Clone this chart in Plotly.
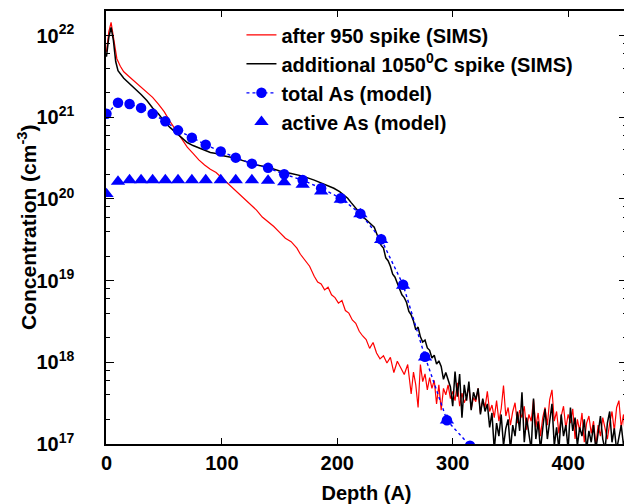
import plotly.graph_objects as go

# after 950 spike (SIMS)
red_depth = [0, 2, 4, 6, 9, 12, 15, 20, 25, 30, 35, 40, 45, 50, 55, 60, 65, 70, 75, 80,
             85, 90, 95, 100, 105, 110, 115, 120, 125, 130, 135, 140, 145, 150, 155, 160, 165, 168, 172, 176,
             180, 183, 186, 189, 192, 195, 198, 201, 204, 207, 210, 213, 216, 219, 222, 225, 228, 231, 234, 237,
             240, 243, 246, 249, 252, 255, 258, 261, 264, 266, 268, 270, 272, 274, 276, 278, 280, 282, 284, 286,
             288, 290, 292, 294, 296, 298, 300, 302, 304, 306, 308, 310, 312, 314, 316, 318, 320, 322, 324, 326,
             328, 330, 332, 334, 336, 338, 340, 342, 344, 346, 348, 350, 352, 354, 356, 358, 360, 362, 364, 366,
             368, 370, 372, 374, 376, 378, 380, 382, 384, 386, 388, 390, 392, 394, 396, 398, 400, 402, 404, 406,
             408, 410, 412, 414, 416, 418, 420, 422, 424, 426, 428, 430, 432, 434, 436, 438, 440, 442, 444, 446,
             448, 450, 452]
red_conc = [6.3e21, 1.1e22, 1.45e22, 9.4e21, 5.2e21, 4.2e21, 3.6e21, 3.1e21, 2.7e21, 2.35e21,
            2.05e21, 1.75e21, 1.45e21, 1.17e21, 8.9e20, 6.9e20, 5.4e20, 4.3e20, 3.6e20, 3.0e20,
            2.6e20, 2.3e20, 2.1e20, 1.8e20, 1.55e20, 1.35e20, 1.15e20, 9.8e19, 8.5e19, 7.3e19,
            6.0e19, 5.3e19, 4.6e19, 3.9e19, 3.3e19, 3.0e19, 2.5e19, 2.1e19, 1.8e19, 1.5e19,
            1.13e19, 9.6e18, 9.1e18, 7.7e18, 8.3e18, 6.7e18, 6.2e18, 5.3e18, 5.7e18, 4.3e18,
            4.0e18, 3.3e18, 3.0e18, 2.4e18, 2.1e18, 1.9e18, 1.48e18, 1.75e18, 1.3e18, 1.1e18,
            1.2e18, 9.8e17, 1.15e18, 7.5e17, 1.03e18, 8.5e17, 7.1e17, 9.4e17, 4.1e17, 7.6e17,
            5.3e17, 2.8e17, 9.4e17, 5.8e17, 7.2e17, 4.6e17, 6.5e17, 4.8e17, 6.0e17, 3.1e17,
            5.3e17, 2.6e17, 4.8e17, 4.0e17, 5.3e17, 3.6e17, 4.4e17, 3.4e17, 5.6e17, 2.9e17,
            4.2e17, 3.2e17, 3.8e17, 5.0e17, 2.7e17, 3.7e17, 3.3e17, 4.8e17, 2.4e17, 3.5e17,
            2.8e17, 4.4e17, 2.5e17, 3.0e17, 2.1e17, 3.4e17, 1.9e17, 2.7e17, 5.2e17, 2.2e17,
            2.8e17, 1.7e17, 2.5e17, 3.2e17, 1.8e17, 2.6e17, 2.1e17, 2.9e17, 1.5e17, 2.3e17,
            1.9e17, 3.5e17, 1.6e17, 2.4e17, 1.25e17, 2.1e17, 2.8e17, 1.7e17, 3.5e17, 4.6e17,
            1.9e17, 2.5e17, 1.35e17, 2.2e17, 2.9e17, 1.55e17, 2.3e17, 1.8e17, 2.7e17, 1.15e17,
            2.0e17, 1.45e17, 2.4e17, 1.05e17, 1.8e17, 2.2e17, 1.35e17, 1.9e17, 0.95e17, 1.7e17,
            1.25e17, 2.1e17, 1.5e17, 1.15e17, 1.8e17, 2.5e17, 1.45e17, 2.8e17, 3.4e17, 1.6e17,
            2.3e17, 1.05e17, 1.5e17]

# additional 1050C spike (SIMS)
black_depth = [0, 2, 4, 6, 8, 10, 15, 20, 25, 30, 35, 40, 45, 50, 55, 60, 65, 70, 75, 80,
               85, 90, 95, 100, 110, 120, 130, 140, 150, 160, 170, 180, 190, 197, 202, 206, 209, 212, 215, 218,
               220, 223, 226, 229, 232, 234, 236, 238, 240, 242, 244, 246, 248, 250, 252, 254, 256, 258, 260, 262,
               264, 266, 268, 270, 272, 274, 276, 278, 280, 282, 284, 286, 288, 290, 292, 294, 296, 298, 300, 302,
               304, 306, 308, 310, 312, 314, 316, 318, 320, 322, 324, 326, 328, 330, 332, 334, 336, 338, 340, 342,
               344, 346, 348, 350, 352, 354, 356, 358, 360, 362, 364, 366, 368, 370, 372, 374, 376, 378, 380, 382,
               384, 386, 388, 390, 392, 394, 396, 398, 400, 402, 404, 406, 408, 410, 412, 414, 416, 418, 420, 422,
               424, 426, 428, 430, 432, 434, 436, 438, 440, 442, 444, 446, 448, 450, 452]
black_conc = [5.5e21, 9.4e21, 1.26e22, 8.7e21, 4.8e21, 3.7e21, 3.0e21, 2.6e21, 2.2e21, 1.9e21,
              1.6e21, 1.3e21, 1.1e21, 8.9e20, 7.5e20, 6.5e20, 5.6e20, 4.9e20, 4.5e20, 4.2e20,
              4.0e20, 3.7e20, 3.6e20, 3.4e20, 3.2e20, 2.9e20, 2.6e20, 2.45e20, 2.2e20, 2.05e20,
              1.9e20, 1.7e20, 1.5e20, 1.35e20, 1.23e20, 1.12e20, 1.02e20, 9.0e19, 8.0e19, 7.2e19,
              6.6e19, 5.9e19, 5.4e19, 4.9e19, 4.5e19, 3.8e19, 3.1e19, 2.7e19, 2.5e19, 1.9e19,
              1.75e19, 1.5e19, 1.2e19, 1.1e19, 9.3e18, 8.0e18, 6.7e18, 6.2e18, 5.4e18, 4.2e18,
              3.8e18, 3.2e18, 2.5e18, 2.7e18, 2.05e18, 1.77e18, 1.87e18, 1.5e18, 1.4e18, 1.13e18,
              1.22e18, 9.5e17, 1.04e18, 8.9e17, 6.2e17, 7.5e17, 6.0e17, 5.0e17, 2.9e17, 7.7e17,
              3.8e17, 7.2e17, 2.1e17, 5.3e17, 3.4e17, 5.8e17, 2.6e17, 4.3e17, 3.5e17, 4.8e17,
              2.3e17, 3.6e17, 2.5e17, 3.1e17, 1.6e17, 2.4e17, 0.85e17, 1.8e17, 1.25e17, 2.3e17,
              0.95e17, 1.55e17, 2.0e17, 0.85e17, 1.7e17, 1.25e17, 2.5e17, 1.45e17, 4.3e17, 1.05e17,
              2.1e17, 1.35e17, 0.85e17, 3.6e17, 1.15e17, 1.9e17, 0.85e17, 1.55e17, 2.7e17, 1.15e17,
              1.9e17, 3.1e17, 0.95e17, 1.6e17, 0.85e17, 2.3e17, 1.25e17, 1.7e17, 0.85e17, 2.8e17,
              1.45e17, 2.1e17, 0.95e17, 1.6e17, 1.25e17, 2.0e17, 0.85e17, 1.45e17, 1.05e17, 1.7e17,
              0.85e17, 1.35e17, 2.2e17, 1.15e17, 0.85e17, 1.8e17, 2.5e17, 1.05e17, 1.55e17, 0.85e17,
              1.25e17, 1.7e17, 0.95e17, 1.35e17, 1.15e17]

# model grid
model_depth = [0, 10, 20, 30, 40, 51, 62, 74, 86, 99, 112, 126, 140, 154, 170, 186, 203, 220, 238, 257,
               276, 295, 315]
total_as = [1.1e21, 1.5e21, 1.45e21, 1.3e21, 1.1e21, 8.9e20, 6.9e20, 5.6e20, 4.6e20, 3.8e20,
            3.2e20, 2.7e20, 2.4e20, 2.0e20, 1.7e20, 1.35e20, 1.02e20, 6.6e19, 3.2e19, 8.9e18,
            1.17e18, 1.95e17, 0.95e17]
active_depth = model_depth[:-1]
active_as = [1.15e20, 1.63e20, 1.7e20, 1.7e20, 1.7e20, 1.7e20, 1.7e20, 1.7e20, 1.7e20, 1.7e20,
             1.7e20, 1.7e20, 1.68e20, 1.6e20, 1.5e20, 1.24e20, 9.8e19, 6.5e19, 3.15e19, 8.7e18,
             1.15e18, 1.95e17]

y_ticks = [1e17, 1e18, 1e19, 1e20, 1e21, 1e22]
y_ticktext = ["10<sup>17</sup>", "10<sup>18</sup>", "10<sup>19</sup>", "10<sup>20</sup>",
              "10<sup>21</sup>", "10<sup>22</sup>"]
y_minor = [m * t for t in y_ticks for m in (2, 4, 6, 8)]
x_ticks = [0, 100, 200, 300, 400]

fig = go.Figure()
fig.add_trace(go.Scatter(x=red_depth, y=red_conc, mode="lines", name="after 950 spike (SIMS)",
                         line=dict(color="#ff0000", width=1.2)))
fig.add_trace(go.Scatter(x=black_depth, y=black_conc, mode="lines",
                         name="additional 1050<sup>0</sup>C spike (SIMS)",
                         line=dict(color="#000000", width=1.5)))
fig.add_trace(go.Scatter(x=model_depth, y=total_as, mode="lines+markers", name="total As (model)",
                         line=dict(color="#0000ff", width=1.4, dash="dot"),
                         marker=dict(symbol="circle", size=10.5, color="#0000ff")))
fig.add_trace(go.Scatter(x=active_depth, y=active_as, mode="markers", name="active As (model)",
                         marker=dict(symbol="triangle-up", size=12.5, color="#0000ff")))

axis_common = dict(showline=True, linecolor="black", linewidth=1.5, mirror="ticks", automargin=False,
                   ticks="inside", tickcolor="black", tickwidth=1.3, showgrid=False, zeroline=False)

# the page body adds 8px around the figure, so the figure is 8px smaller on each side
fig.update_layout(
    width=624, height=496,
    margin=dict(l=98, r=5, t=3, b=60),
    plot_bgcolor="white", paper_bgcolor="white",
    font=dict(family="Liberation Sans, Arial, sans-serif", size=20, color="black", weight="bold"),
    showlegend=True,
    legend=dict(x=0.26, y=0.99, xanchor="left", yanchor="top", bgcolor="rgba(0,0,0,0)",
                font=dict(size=20), traceorder="normal"),
    xaxis=dict(axis_common, range=[-0.4, 451], tickvals=x_ticks, ticklen=6,
               tickfont=dict(size=20),
               title=dict(text="Depth (A)", font=dict(size=20), standoff=16)),
    yaxis=dict(axis_common, type="log", range=[17, 22.3], tickvals=y_ticks, ticktext=y_ticktext,
               ticklen=8, tickfont=dict(size=20), ticklabelstandoff=26,
               minor=dict(tickvals=y_minor, ticks="inside", ticklen=4, tickcolor="black", tickwidth=1.2)),
    annotations=[dict(text="Concentration (cm<sup>-3</sup>)", xref="paper", yref="paper",
                      x=-0.1525, y=0.5, xanchor="center", yanchor="middle", textangle=-90,
                      showarrow=False, font=dict(size=21))],
)

fig.write_html("out.html")
